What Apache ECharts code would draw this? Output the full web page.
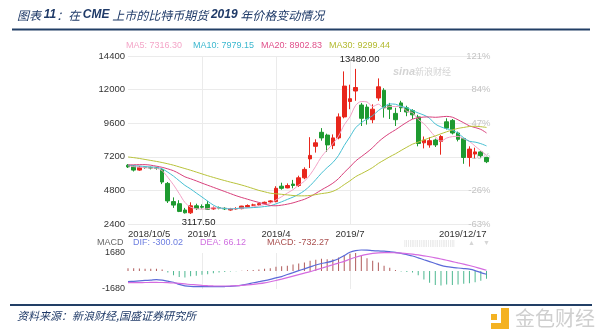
<!DOCTYPE html>
<html><head><meta charset="utf-8">
<script src="https://cdn.jsdelivr.net/npm/echarts@6/dist/echarts.min.js"></script>
<style>html,body{margin:0;padding:0;background:#fff}#c{width:600px;height:331px}</style>
</head><body><div id="c"></div>
<script>
// ---------- data ----------
const categories = ['2018/10/5','2018/10/12','2018/10/19','2018/10/26','2018/11/2','2018/11/9','2018/11/16','2018/11/23','2018/11/30','2018/12/7','2018/12/14','2018/12/21','2018/12/28',
 '2019/1/4','2019/1/11','2019/1/18','2019/1/25','2019/2/1','2019/2/8','2019/2/15','2019/2/22','2019/3/1','2019/3/8','2019/3/15','2019/3/22','2019/3/29',
 '2019/4/5','2019/4/12','2019/4/19','2019/4/26','2019/5/3','2019/5/10','2019/5/17','2019/5/24','2019/5/31','2019/6/7','2019/6/14','2019/6/21','2019/6/28',
 '2019/7/5','2019/7/12','2019/7/19','2019/7/26','2019/8/2','2019/8/9','2019/8/16','2019/8/23','2019/8/30','2019/9/6','2019/9/13','2019/9/20','2019/9/27',
 '2019/10/4','2019/10/11','2019/10/18','2019/10/25','2019/11/1','2019/11/8','2019/11/15','2019/11/22','2019/11/29','2019/12/6','2019/12/13','2019/12/17'];

const openP  = [6600,6520,6250,6460,6420,6400,6300,5300,4000,3850,3400,3200,3700,3650,3800,3480,3560,3520,3400,3480,3500,3620,3750,3770,3860,3980,4000,5100,4980,5250,5150,5700,7050,7950,8950,8750,8000,8550,10050,11150,11900,10900,10750,9850,11400,11950,10850,10300,11050,10700,10500,10050,8200,8050,8400,8300,9700,9800,8900,8500,7150,7400,7550,7150];
const closeP = [6480,6250,6450,6430,6400,6380,5400,4050,3750,3300,3200,3700,3500,3600,3450,3550,3540,3480,3460,3500,3680,3720,3760,3850,3950,4050,4950,4950,5150,5150,5700,6300,7300,8200,8550,8050,8550,10050,12250,11350,12150,9950,9900,10600,12200,10700,10600,9850,10700,10400,10200,8150,8400,8350,8050,8650,9250,8900,8450,7150,7750,7550,7280,6850];
const lowP   = [6400,6150,6200,6350,6300,6280,5250,3900,3550,3250,3150,3117.5,3400,3500,3400,3420,3450,3400,3350,3420,3450,3580,3680,3700,3800,3920,3950,4850,4950,4950,5050,5600,6400,7500,8350,7550,7750,8450,9950,10600,11200,9400,9500,9600,11200,10000,9900,9400,10400,10100,9900,7950,7800,7850,7900,7350,9150,8800,8300,6700,6500,7100,7150,6750];
const highP  = [6680,6600,6550,6520,6500,6480,6400,5400,4300,4100,3550,3950,3850,3800,4050,3650,3650,3600,3550,3600,3700,3800,3850,3900,4000,4100,5100,5350,5300,5550,5850,6450,8600,8450,9250,8850,8800,10300,13300,12350,13480,11050,10950,10950,12800,12100,11050,10700,11200,10850,10600,10200,8650,8600,8500,8750,9950,9900,9000,8550,7950,7850,7600,7200];

const ma5  = [6560,6500,6460,6420,6402,6382,6212,5732,5196,4576,3940,3600,3490,3460,3490,3560,3528,3524,3496,3506,3532,3568,3624,3702,3792,3866,4112,4350,4610,4850,5180,5450,5920,6530,7210,7680,8130,8680,9490,10050,10870,11150,11120,10790,10960,10670,10800,10790,10810,10450,10350,9860,9570,9100,8630,8320,8540,8640,8660,8480,8300,7960,7636,7316.3];
const ma10 = [6600,6570,6540,6505,6476,6454,6344,6099,5819,5489,5161,4906,4611,4328,4033,3750,3564,3507,3478,3498,3546,3548,3574,3599,3649,3699,3840,3987,4156,4321,4523,4781,5135,5570,6030,6430,6790,7300,8010,8630,9275,9640,9900,10140,10505,10770,10975,10955,10800,10705,10510,10330,10180,9955,9540,9335,9200,9105,8880,8555,8310,8250,8138,7979.15];
const ma20 = [6620,6630,6640,6640,6600,6530,6450,6337,6204,6000,5770,5630,5480,5320,5170,5020,4870,4720,4570,4420,4290,4170,4050,3940,3830,3720,3702,3747,3817,3909,4034,4164,4354,4584,4839,5064,5315,5643,6083,6475,6899,7210,7517,7855,8267,8600,8882,9127,9405,9667,9892,9985,10040,10047,10022,10052,10087,10030,9840,9630,9410,9290,9159,8902.83];
const ma30 = [7190,7140,7080,7010,6940,6870,6790,6700,6600,6480,6360,6240,6110,5980,5850,5730,5610,5500,5390,5290,5180,5060,4930,4800,4700,4600,4560,4520,4480,4436,4410,4412,4440,4499,4571,4626,4731,4931,5215,5483,5781,5990,6203,6436,6728,6966,7202,7414,7655,7885,8103,8250,8405,8555,8692,8845,8988,9120,9230,9297,9365,9380,9350,9299.44];

const dif  = [-1000,-960,-920,-880,-850,-800,-850,-950,-1050,-1250,-1380,-1440,-1460,-1460,-1460,-1460,-1460,-1450,-1430,-1380,-1310,-1220,-1100,-1000,-900,-780,-640,-520,-330,-150,30,200,380,560,700,800,950,1150,1450,1750,1900,1960,1950,1900,1870,1850,1800,1740,1650,1530,1400,1230,1050,880,700,520,400,330,280,230,170,40,-150,-300.02];
const dea  = [-1090,-1085,-1080,-1075,-1070,-1070,-1075,-1090,-1120,-1160,-1210,-1260,-1300,-1340,-1370,-1390,-1400,-1400,-1390,-1370,-1340,-1300,-1250,-1180,-1100,-1000,-890,-760,-620,-480,-340,-200,-60,100,260,420,580,740,900,1100,1280,1430,1550,1640,1700,1720,1720,1700,1670,1630,1570,1500,1420,1330,1230,1120,1000,880,760,640,510,370,220,66.12];
const macdHist = [250,250,230,220,220,200,150,-150,-400,-550,-600,-500,-450,-350,-300,-200,-150,-100,-50,-20,30,60,100,150,200,250,400,450,500,600,700,800,950,1050,1150,1100,1100,1250,1500,1600,1700,1450,1200,950,800,500,300,100,-50,-100,-150,-400,-800,-1100,-1300,-1350,-1250,-1300,-1250,-1200,-1150,-1050,-900,-732.27];

const xTickIdx  = [0,13,26,39,63];
const xTickText = ['2018/10/5','2019/1','2019/4','2019/7','2019/12/17'];
const xGridIdx  = [13,26,39];
const pctLabels = ['121%','84%','47%','10%','-26%','-63%'];
const maLegend  = ['MA5: 7316.30','MA10: 7979.15','MA20: 8902.83','MA30: 9299.44'];
const macdLegend = ['DIF: -300.02','DEA: 66.12','MACD: -732.27'];
const extremes = [{idx:40, val:13480, text:'13480.00'},{idx:11, val:3117.5, text:'3117.50'}];

// ---------- chart ----------
const FONT = '"Liberation Sans", Arial, sans-serif';
const CJK = '"Noto Sans CJK SC", sans-serif';
const UP = '#e8261c', DOWN = '#1e9a30';
const maColors = ['#f2a2c6','#46bfd2','#d8417c','#b8c23a'];
const maTextColors = ['#f4a6c8','#3cb8cf','#e0508a','#b3ba30'];

const candleData = categories.map((_, i) => [openP[i], closeP[i], lowP[i], highP[i]]);

const chart = echarts.init(document.getElementById('c'), null, {renderer:'canvas'});

const graphic = [
  {type:'text', x:17, y:15, style:{
    text:'{c|图表 }{b|11}{c|：在 }{b|CME}{c| 上市的比特币期货 }{b|2019}{c| 年价格变动情况}',
    verticalAlign:'middle',
    rich:{
      c:{fill:'#1f3a68', font:'italic 12px ' + CJK},
      b:{fill:'#1f3a68', font:'italic bold 12px ' + FONT}
    }}},
  {type:'line', shape:{x1:12,y1:29.5,x2:590,y2:29.5}, style:{stroke:'#223f66', lineWidth:2}},
  {type:'line', shape:{x1:10,y1:305,x2:592,y2:305}, style:{stroke:'#223f66', lineWidth:2}},
  {type:'text', x:17, y:316, style:{text:'资料来源：新浪财经,国盛证券研究所', fill:'#1f3a68', font:'italic 11px ' + CJK, verticalAlign:'middle'}},
  // logo
  {type:'rect', shape:{x:501,y:308,width:8,height:21}, style:{fill:'#f4b222'}},
  {type:'rect', shape:{x:491,y:323,width:18,height:6}, style:{fill:'#f4b222'}},
  {type:'rect', shape:{x:491,y:314,width:6,height:6}, style:{fill:'#f4b222'}},
  {type:'text', x:515, y:318, style:{text:'金色财经', fill:'#cfcfcf', font:'20px ' + CJK, verticalAlign:'middle'}},
  // watermark
  {type:'text', x:393, y:72, style:{text:'{a|sina}{b|新浪财经}', verticalAlign:'middle',
    rich:{a:{fill:'#d4d4d4', font:'italic bold 11px ' + FONT}, b:{fill:'#d4d4d4', font:'9px ' + CJK}}}},
  // MACD header
  {type:'text', x:97, y:243, style:{text:'MACD', fill:'#666', font:'9px ' + FONT, verticalAlign:'middle'}},
  {type:'text', x:404, y:243, style:{text:'||||||||||||||||||||||||||||', fill:'#dedede', font:'7px ' + FONT, verticalAlign:'middle'}},
  {type:'text', x:468, y:243, style:{text:'▲', fill:'#d6d6d6', font:'7px ' + FONT, verticalAlign:'middle'}},
  {type:'text', x:483, y:243, style:{text:'▼', fill:'#d6d6d6', font:'7px ' + FONT, verticalAlign:'middle'}}
];
const maLegendX = [126,193,261,329];
maLegend.forEach((t, i) => graphic.push({type:'text', x:maLegendX[i], y:46,
  style:{text:t, fill:maTextColors[i], font:'9px ' + FONT, verticalAlign:'middle'}}));
const macdLegendX = [133,200,267];
const macdLegendColors = ['#6c7de0','#d070e0','#a94f4f'];
macdLegend.forEach((t, i) => graphic.push({type:'text', x:macdLegendX[i], y:243,
  style:{text:t, fill:macdLegendColors[i], font:'9px ' + FONT, verticalAlign:'middle'}}));

const option = {
  animation:false,
  textStyle:{fontFamily:FONT},
  grid:[
    {left:128, width:358.5, top:56, height:168},
    {left:128, width:358.5, top:253, height:36}
  ],
  xAxis:[
    {type:'category', gridIndex:0, data:categories, boundaryGap:false,
     axisLine:{show:false}, axisTick:{show:false},
     axisLabel:{interval:(i)=>xTickIdx.includes(i), formatter:(v,i)=>{const k=xTickIdx.indexOf(i);return k>=0?xTickText[k]:'';},
       color:'#333', fontSize:9.5, margin:5, alignMinLabel:'left', alignMaxLabel:'right'},
     splitLine:{show:true, interval:(i)=>xGridIdx.includes(i), lineStyle:{color:'#ebebeb', width:1}}},
    {type:'category', gridIndex:1, data:categories, boundaryGap:false,
     axisLine:{show:false}, axisTick:{show:false}, axisLabel:{show:false},
     splitLine:{show:true, interval:(i)=>xGridIdx.includes(i), lineStyle:{color:'#ebebeb', width:1}}}
  ],
  yAxis:[
    {type:'value', gridIndex:0, min:2400, max:14400, interval:2400, position:'left',
     axisLine:{show:false}, axisTick:{show:false},
     axisLabel:{color:'#333', fontSize:9.5, margin:3, formatter:(v)=>String(v)},
     splitLine:{lineStyle:{color:'#ebebeb', width:1}}},
    {type:'value', gridIndex:0, min:2400, max:14400, interval:2400, position:'right', offset:4,
     axisLine:{show:false}, axisTick:{show:false},
     axisLabel:{inside:true, margin:0, color:'#c4c4c4', fontSize:9.5,
       formatter:(v)=>pctLabels[Math.round((14400 - v)/2400)]},
     splitLine:{show:false}},
    {type:'value', gridIndex:1, min:-1680, max:1680, interval:1680,
     axisLine:{show:false}, axisTick:{show:false},
     axisLabel:{color:'#333', fontSize:9, margin:3, formatter:(v)=>v===0?'':String(v)},
     splitLine:{show:false}}
  ],
  graphic: graphic,
  series:[
    {type:'candlestick', name:'K', xAxisIndex:0, yAxisIndex:0, data:candleData, barWidth:4.2, clip:false,
     itemStyle:{color:UP, color0:DOWN, borderColor:UP, borderColor0:DOWN, borderWidth:1},
     markPoint:{symbol:'circle', symbolSize:1, itemStyle:{color:'rgba(0,0,0,0)'},
       label:{show:true, color:'#222', fontSize:9.5, fontFamily:FONT},
       data:[
         {coord:[extremes[0].idx, extremes[0].val], value:extremes[0].text, label:{position:'top', distance:4, offset:[4,0], formatter:extremes[0].text}},
         {coord:[extremes[1].idx, extremes[1].val], value:extremes[1].text, label:{position:'bottom', distance:3, offset:[8,0], formatter:extremes[1].text}}
       ]}},
    {type:'line', name:'MA5', data:ma5, xAxisIndex:0, yAxisIndex:0, showSymbol:false, smooth:0.3, lineStyle:{color:maColors[0], width:1}},
    {type:'line', name:'MA10', data:ma10, xAxisIndex:0, yAxisIndex:0, showSymbol:false, smooth:0.3, lineStyle:{color:maColors[1], width:1}},
    {type:'line', name:'MA20', data:ma20, xAxisIndex:0, yAxisIndex:0, showSymbol:false, smooth:0.3, lineStyle:{color:maColors[2], width:1}},
    {type:'line', name:'MA30', data:ma30, xAxisIndex:0, yAxisIndex:0, showSymbol:false, smooth:0.3, lineStyle:{color:maColors[3], width:1}},
    {type:'bar', name:'MACD', data:macdHist, xAxisIndex:1, yAxisIndex:2, barWidth:1,
     itemStyle:{color:(p)=>p.value>=0?'#b05a5a':'#4db890'}},
    {type:'line', name:'DIF', data:dif, xAxisIndex:1, yAxisIndex:2, showSymbol:false, smooth:0.3, clip:false, lineStyle:{color:'#5b6ad8', width:1.2}},
    {type:'line', name:'DEA', data:dea, xAxisIndex:1, yAxisIndex:2, showSymbol:false, smooth:0.3, clip:false, lineStyle:{color:'#d56be0', width:1.2}}
  ]
};
chart.setOption(option);
</script>
</body></html>
